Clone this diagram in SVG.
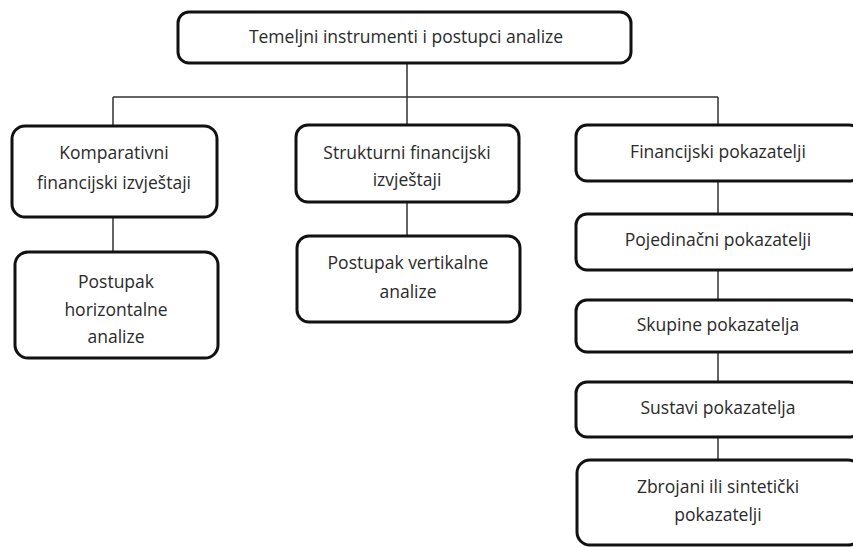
<svg xmlns="http://www.w3.org/2000/svg" width="853" height="547" viewBox="0 0 853 547">
<style>
.box{fill:#fff;stroke:#111;stroke-width:3}
.t{font-family:"Open Sans","Liberation Sans",sans-serif;font-size:17.5px;fill:#2a2a2a;text-anchor:middle}
.c{stroke:#333;stroke-width:1.5;fill:none}
</style>
<rect width="853" height="547" fill="#fff"/>
<g id="connectors">
<path class="c" d="M407 63V97M113 97H718M113 97V126M407 97V125M718 97V125"/>
<path class="c" d="M113 217V252M407 202V236M718 181V214M718 270V300M718 352V382M718 437V460"/>
</g>
<g id="root"><rect class="box" x="178" y="12" width="453" height="51" rx="11"/><text class="t" x="406" y="43">Temeljni instrumenti i postupci analize</text></g>
<g id="komparativni"><rect class="box" x="12" y="126" width="205" height="91" rx="13"/><text class="t" x="114" y="159">Komparativni</text><text class="t" x="114" y="189">financijski izvještaji</text></g>
<g id="horizontalna"><rect class="box" x="15" y="252" width="203" height="106" rx="13"/><text class="t" x="116" y="288">Postupak</text><text class="t" x="116" y="316">horizontalne</text><text class="t" x="116" y="343">analize</text></g>
<g id="strukturni"><rect class="box" x="296" y="125" width="223" height="77" rx="12"/><text class="t" x="407" y="159">Strukturni financijski</text><text class="t" x="407" y="186">izvještaji</text></g>
<g id="vertikalna"><rect class="box" x="297" y="236" width="223" height="86" rx="12"/><text class="t" x="408" y="269">Postupak vertikalne</text><text class="t" x="408" y="298">analize</text></g>
<g id="financijski"><rect class="box" x="576" y="125" width="284" height="56" rx="11"/><text class="t" x="718" y="158">Financijski pokazatelji</text></g>
<g id="pojedinacni"><rect class="box" x="576" y="214" width="284" height="56" rx="11"/><text class="t" x="718" y="246">Pojedinačni pokazatelji</text></g>
<g id="skupine"><rect class="box" x="576" y="300" width="284" height="52" rx="11"/><text class="t" x="718" y="331">Skupine pokazatelja</text></g>
<g id="sustavi"><rect class="box" x="576" y="382" width="284" height="55" rx="11"/><text class="t" x="718" y="414">Sustavi pokazatelja</text></g>
<g id="zbrojani"><rect class="box" x="577" y="460" width="284" height="85" rx="13"/><text class="t" x="718" y="493">Zbrojani ili sintetički</text><text class="t" x="718" y="521">pokazatelji</text></g>
</svg>
